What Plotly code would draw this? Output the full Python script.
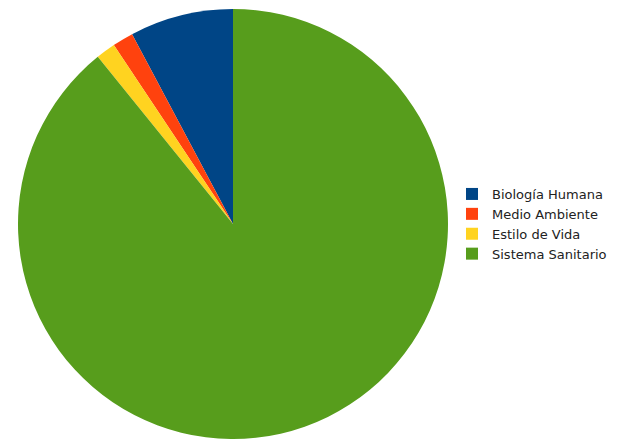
import plotly.graph_objects as go

labels = ["Biología Humana", "Medio Ambiente", "Estilo de Vida", "Sistema Sanitario"]
values = [7.9, 1.6, 1.5, 90.6]
colors = ["#004586", "#ff420e", "#ffd320", "#579d1c"]

W, H = 623, 439
first_angle = 360 * values[0] / sum(values)
fig = go.Figure(go.Pie(
    labels=labels, values=values, sort=False,
    direction="counterclockwise", rotation=-first_angle,
    marker=dict(colors=colors, line=dict(width=0)),
    textinfo="none", hoverinfo="label+percent",
    domain=dict(x=[10 / W, 440 / W], y=[8 / H, 438 / H]),
))
fig.update_layout(
    width=W, height=H,
    margin=dict(l=0, r=0, t=0, b=0),
    paper_bgcolor="white", plot_bgcolor="white",
    legend=dict(x=444 / W, y=1 - 216 / H, xanchor="left", yanchor="middle",
                font=dict(family="DejaVu Sans", size=13, color="#222"),
                tracegroupgap=0),
    showlegend=True,
)
fig.write_html("out.html")
